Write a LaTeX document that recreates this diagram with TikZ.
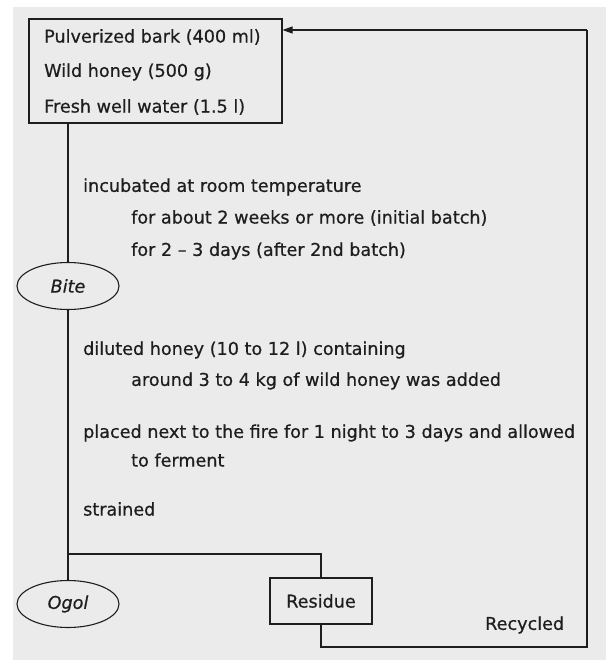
\documentclass[tikz,border=0pt]{standalone}
\usepackage{fontspec}
\setmainfont{DejaVu Sans}[FakeBold=0.6]
\usetikzlibrary{arrows.meta,shapes.geometric}
\definecolor{paper}{HTML}{EBEBEB}
\definecolor{ink}{HTML}{1E1E1E}
\tikzset{
  conn/.style={draw=ink, line width=1.1pt},
  txt/.style={anchor=west, inner sep=0pt, text=ink, font=\fontsize{17.6}{20}\selectfont},
  boxnode/.style={draw=ink, line width=1.1pt, rectangle, inner sep=0pt},
  ovalnode/.style={draw=ink, line width=1.1pt, ellipse, minimum width=102pt, minimum height=47pt, inner sep=0pt, text=ink, font=\fontsize{17.6}{20}\selectfont\itshape},
}
\begin{document}
\begin{tikzpicture}[x=1pt,y=-1pt]
\useasboundingbox (0,0) rectangle (606,662);
\fill[white] (0,0) rectangle (606,662);
\fill[paper] (13,7) rectangle (606,660);
% top box
\node[boxnode, minimum width=253pt, minimum height=104pt] (box) at (155.5,71) {};
\node[txt] (t1) at (44,37) {Pulverized bark (400 ml)};
\node[txt] (t2) at (44,72) {Wild honey (500 g)};
\node[txt] (t3) at (44,107) {Fresh well water (1.5 l)};
% ellipses
\node[ovalnode] (bite) at (68,286) {Bite};
\node[ovalnode] (ogol) at (68,604) {Ogol};
% residue
\node[boxnode, minimum width=102pt, minimum height=46pt, text=ink, font=\fontsize{17.6}{20}\selectfont] (res) at (321,601) {Residue};
% texts
\node[txt] (a1) at (83,187) {incubated at room temperature};
\node[txt] (a2) at (131,218) {for about 2 weeks or more (initial batch)};
\node[txt] (a3) at (131,251) {for 2 -- 3 days (after 2nd batch)};
\node[txt] (b1) at (83,350) {diluted honey (10 to 12 l) containing};
\node[txt] (b2) at (131,381) {around 3 to 4 kg of wild honey was added};
\node[txt] (b3) at (83,433) {placed next to the fire for 1 night to 3 days and allowed};
\node[txt] (b4) at (131,460) {to ferment};
\node[txt] (b5) at (83,509) {strained};
\node[txt] (rec) at (485,625) {Recycled};
% connectors
\coordinate (j) at (68,554);
\coordinate (c1) at (321,647);
\coordinate (c2) at (587,647);
\coordinate (c3) at (587,30);
\draw[conn] (box.south -| j) -- (bite.north);
\draw[conn] (bite.south) -- (ogol.north);
\draw[conn] (j) -- (j -| res.north) -- (res.north);
\draw[conn] (res.south) -- (c1) -- (c2) -- (c3);
\draw[conn, -{Triangle[length=10pt,width=7pt]}] (c3) -- (c3 -| box.east);
\end{tikzpicture}
\end{document}
